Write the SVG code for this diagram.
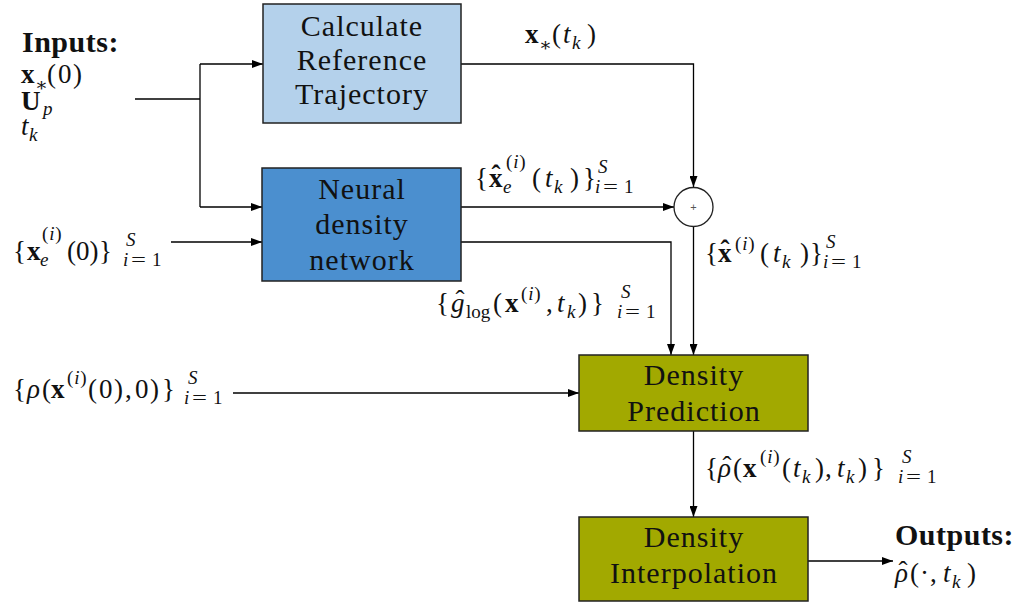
<svg xmlns="http://www.w3.org/2000/svg" width="1027" height="608" viewBox="0 0 1027 608">
  <defs>
    <marker id="arrow" markerUnits="userSpaceOnUse" markerWidth="12" markerHeight="8" refX="11" refY="4" orient="auto">
      <path d="M0,0 L11,4 L0,8 Z" fill="#000"/>
    </marker>
    <style>
      .box { stroke: #222; stroke-width: 1.5; }
      .lbl { font-family: "Liberation Serif", "DejaVu Serif", serif; font-size: 30px; letter-spacing: 1px; text-anchor: middle; fill: #111; }
      .m { font-family: "Liberation Serif", "DejaVu Serif", serif; font-size: 27px; fill: #111; }
      .s { font-size: 19px; }
      .sup { letter-spacing: 0.8px; }
      .i { font-style: italic; }
      .b { font-weight: bold; }
      .hd { font-family: "Liberation Serif", "DejaVu Serif", serif; font-size: 30px; font-weight: bold; letter-spacing: 0.5px; fill: #111; }
      .hat { text-anchor: middle; }
      .wire { fill: none; stroke: #000; stroke-width: 1.3; }
    </style>
  </defs>
  <rect width="1027" height="608" fill="#fff"/>

  <!-- connectors -->
  <g id="connectors">
    <polyline class="wire" points="135,99 200,99"/>
    <polyline class="wire" points="200,64 200,207"/>
    <polyline class="wire" points="200,64 263,64" marker-end="url(#arrow)"/>
    <polyline class="wire" points="200,207 262,207" marker-end="url(#arrow)"/>
    <polyline class="wire" points="171,242 262,242" marker-end="url(#arrow)"/>
    <polyline class="wire" points="461,64 693.5,64 693.5,187" marker-end="url(#arrow)"/>
    <polyline class="wire" points="461,207 674,207" marker-end="url(#arrow)"/>
    <polyline class="wire" points="461,242 671,242 671,355" marker-end="url(#arrow)"/>
    <polyline class="wire" points="693.5,226.5 693.5,355" marker-end="url(#arrow)"/>
    <polyline class="wire" points="233,393 579,393" marker-end="url(#arrow)"/>
    <polyline class="wire" points="693.5,431 693.5,517" marker-end="url(#arrow)"/>
    <polyline class="wire" points="808,561 893,561" marker-end="url(#arrow)"/>
  </g>

  <!-- input list -->
  <g id="inputs">
    <text class="hd" x="22" y="52">Inputs:</text>
    <text class="m b" x="21" y="83">x</text>
    <text class="m s" x="35" y="91">∗</text>
    <text class="m" x="47" y="83">(</text>
    <text class="m" x="58" y="83">0</text>
    <text class="m" x="73" y="83">)</text>
    <text class="m b" x="21" y="110">U</text>
    <text class="m s i" x="43" y="115">p</text>
    <text class="m i" x="21" y="135">t</text>
    <text class="m s i" x="29" y="141">k</text>
  </g>

  <!-- reference trajectory block -->
  <g id="reference">
    <rect class="box" x="263" y="4" width="198" height="119" fill="#b4d1eb"/>
    <text class="lbl" x="362" y="36">Calculate</text>
    <text class="lbl" x="362" y="70">Reference</text>
    <text class="lbl" x="362" y="104">Trajectory</text>
  </g>

  <!-- neural density network block -->
  <g id="network">
    <rect class="box" x="262" y="168" width="199" height="113" fill="#4b8fcf"/>
    <text class="lbl" x="362" y="199">Neural</text>
    <text class="lbl" x="362" y="234">density</text>
    <text class="lbl" x="362" y="270">network</text>
  </g>

  <!-- summing junction -->
  <g id="sum">
    <circle cx="693.5" cy="207" r="19.5" fill="#fff" stroke="#222" stroke-width="1.3"/>
    <text x="693.5" y="211" font-family="Liberation Sans, sans-serif" font-size="11" fill="#555" text-anchor="middle">+</text>
  </g>

  <!-- density prediction block -->
  <g id="prediction">
    <rect class="box" x="579" y="355" width="229" height="76" fill="#a2a900"/>
    <text class="lbl" x="694" y="385">Density</text>
    <text class="lbl" x="694" y="421">Prediction</text>
  </g>

  <!-- density interpolation block -->
  <g id="interpolation">
    <rect class="box" x="579" y="517" width="229" height="84" fill="#a2a900"/>
    <text class="lbl" x="694" y="547">Density</text>
    <text class="lbl" x="694" y="583">Interpolation</text>
  </g>

  <!-- output -->
  <g id="outputs">
    <text class="hd" x="895" y="545">Outputs:</text>
    <text class="m i" x="895" y="582">ρ</text>
    <text class="m hat" x="903" y="580">ˆ</text>
    <text class="m" x="910" y="582">(</text>
    <text class="m" x="920" y="582">·</text>
    <text class="m" x="930" y="582">,</text>
    <text class="m i" x="943" y="582">t</text>
    <text class="m s i" x="952" y="588">k</text>
    <text class="m" x="967" y="582">)</text>
  </g>

  <!-- signal labels -->
  <g id="label-xref">
    <text class="m b" x="525" y="43">x</text>
    <text class="m s" x="539" y="51">∗</text>
    <text class="m" x="552" y="43">(</text>
    <text class="m i" x="563" y="43">t</text>
    <text class="m s i" x="572" y="49">k</text>
    <text class="m" x="587" y="43">)</text>
  </g>

  <g id="label-xe0">
    <text class="m" x="13" y="260">{</text>
    <text class="m b" x="27" y="260">x</text>
    <text class="m s i" x="40" y="266">e</text>
    <text class="m s sup" x="42" y="240">(<tspan class="i">i</tspan>)</text>
    <text class="m" x="67" y="260">(0)</text>
    <text class="m" x="99" y="260">}</text>
    <text class="m s i" x="126" y="246">S</text>
    <text class="m s i" x="123" y="266">i</text>
    <text class="m s" transform="translate(131,266) scale(1.4,1)">=</text>
    <text class="m s" x="152" y="266">1</text>
  </g>

  <g id="label-xe-hat">
    <text class="m" x="475" y="187">{</text>
    <text class="m b" x="489" y="187">x</text>
    <text class="m hat b" x="496" y="184">ˆ</text>
    <text class="m s i" x="503" y="193">e</text>
    <text class="m s sup" x="506" y="168">(<tspan class="i">i</tspan>)</text>
    <text class="m" x="532" y="187">(</text>
    <text class="m i" x="545" y="187">t</text>
    <text class="m s i" x="554" y="193">k</text>
    <text class="m" x="570" y="187">)</text>
    <text class="m" x="583" y="187">}</text>
    <text class="m s i" x="598" y="173">S</text>
    <text class="m s i" x="595" y="193">i</text>
    <text class="m s" transform="translate(603,193) scale(1.4,1)">=</text>
    <text class="m s" x="624" y="193">1</text>
  </g>

  <g id="label-x-hat">
    <text class="m" x="705" y="262">{</text>
    <text class="m b" x="718" y="262">x</text>
    <text class="m hat b" x="725" y="259">ˆ</text>
    <text class="m s sup" x="735" y="250">(<tspan class="i">i</tspan>)</text>
    <text class="m" x="760" y="262">(</text>
    <text class="m i" x="773" y="262">t</text>
    <text class="m s i" x="782" y="268">k</text>
    <text class="m" x="800" y="262">)</text>
    <text class="m" x="810" y="262">}</text>
    <text class="m s i" x="826" y="248">S</text>
    <text class="m s i" x="823" y="268">i</text>
    <text class="m s" transform="translate(831,268) scale(1.4,1)">=</text>
    <text class="m s" x="852" y="268">1</text>
  </g>

  <g id="label-glog">
    <text class="m" x="436" y="312">{</text>
    <text class="m i" x="451" y="312">g</text>
    <text class="m hat" x="460" y="309">ˆ</text>
    <text class="m s" x="466" y="318">log</text>
    <text class="m" x="493" y="312">(</text>
    <text class="m b" x="505" y="312">x</text>
    <text class="m s sup" x="521" y="300">(<tspan class="i">i</tspan>)</text>
    <text class="m" x="546" y="312">,</text>
    <text class="m i" x="557" y="312">t</text>
    <text class="m s i" x="567" y="318">k</text>
    <text class="m" x="578" y="312">)</text>
    <text class="m" x="591" y="312">}</text>
    <text class="m s i" x="621" y="298">S</text>
    <text class="m s i" x="617" y="318">i</text>
    <text class="m s" transform="translate(625,318) scale(1.4,1)">=</text>
    <text class="m s" x="646" y="318">1</text>
  </g>

  <g id="label-rho0">
    <text class="m" x="13" y="398">{</text>
    <text class="m i" x="27" y="398">ρ</text>
    <text class="m" x="42" y="398">(</text>
    <text class="m b" x="51" y="398">x</text>
    <text class="m s sup" x="67" y="384">(<tspan class="i">i</tspan>)</text>
    <text class="m" x="88" y="398">(</text>
    <text class="m" x="99" y="398">0</text>
    <text class="m" x="114" y="398">)</text>
    <text class="m" x="125" y="398">,</text>
    <text class="m" x="135" y="398">0</text>
    <text class="m" x="150" y="398">)</text>
    <text class="m" x="162" y="398">}</text>
    <text class="m s i" x="188" y="384">S</text>
    <text class="m s i" x="184" y="404">i</text>
    <text class="m s" transform="translate(192,404) scale(1.4,1)">=</text>
    <text class="m s" x="213" y="404">1</text>
  </g>

  <g id="label-rho-hat">
    <text class="m" x="705" y="477">{</text>
    <text class="m i" x="718" y="477">ρ</text>
    <text class="m hat" x="727" y="475">ˆ</text>
    <text class="m" x="733" y="477">(</text>
    <text class="m b" x="743" y="477">x</text>
    <text class="m s sup" x="760" y="463">(<tspan class="i">i</tspan>)</text>
    <text class="m" x="782" y="477">(</text>
    <text class="m i" x="793" y="477">t</text>
    <text class="m s i" x="802" y="483">k</text>
    <text class="m" x="815" y="477">)</text>
    <text class="m" x="825" y="477">,</text>
    <text class="m i" x="837" y="477">t</text>
    <text class="m s i" x="846" y="483">k</text>
    <text class="m" x="858" y="477">)</text>
    <text class="m" x="872" y="477">}</text>
    <text class="m s i" x="902" y="463">S</text>
    <text class="m s i" x="898" y="483">i</text>
    <text class="m s" transform="translate(906,483) scale(1.4,1)">=</text>
    <text class="m s" x="927" y="483">1</text>
  </g>
</svg>
